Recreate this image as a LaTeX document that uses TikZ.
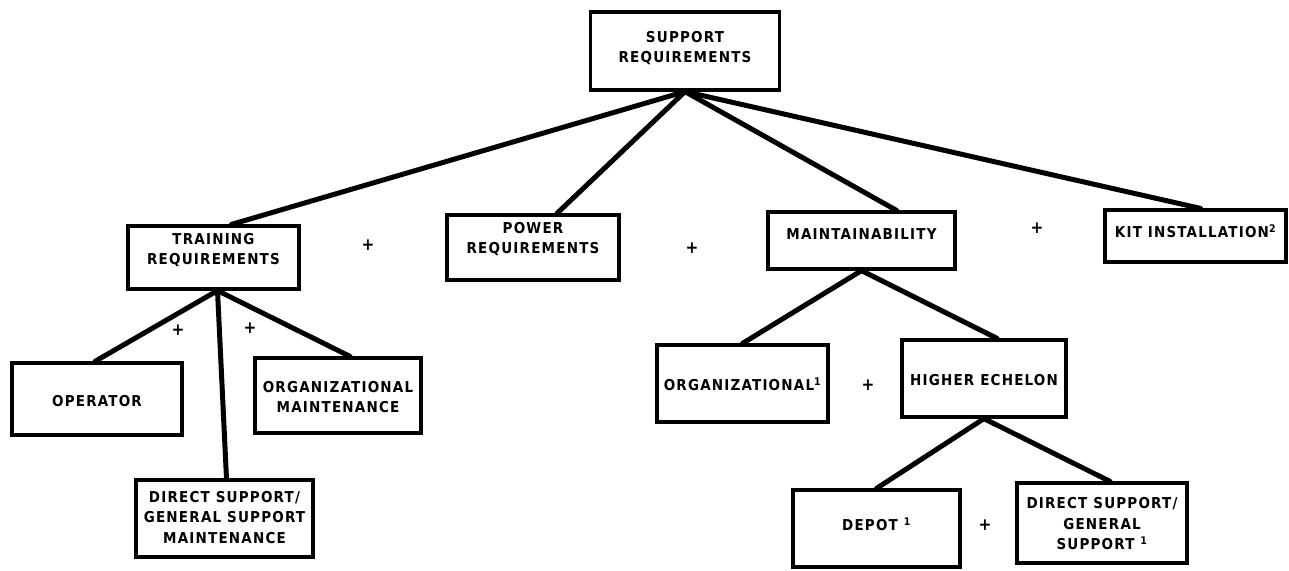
\documentclass[tikz,border=0pt]{standalone}
\usepackage{fontspec}
\setmainfont{DejaVu Sans Condensed}[LetterSpace=8]
\begin{document}
\begin{tikzpicture}[x=1pt,y=-1pt,
  box/.style={draw, line width=3.2pt, inner sep=0pt},
  lbl/.style={align=center, font=\bfseries\fontsize{15}{20.5}\selectfont, inner sep=0pt},
  conn/.style={line width=5pt, line cap=round},
  plus/.style={font=\bfseries\fontsize{17}{17}\selectfont, inner sep=0pt}]
\useasboundingbox (0,0) rectangle (1289,570);
% boxes
\node[box, minimum width=189pt, minimum height=78pt] (sr) at (685,51) {};
\node[box, minimum width=171pt, minimum height=63pt] (tr) at (213.5,257.5) {};
\node[box, minimum width=172pt, minimum height=65pt] (pr) at (533,247.5) {};
\node[box, minimum width=187pt, minimum height=57pt] (mt) at (861.5,240.5) {};
\node[box, minimum width=181pt, minimum height=52pt] (kit) at (1195.5,236) {};
\node[box, minimum width=170pt, minimum height=72pt] (op) at (97,399) {};
\node[box, minimum width=166pt, minimum height=75pt] (om) at (338,395.5) {};
\node[box, minimum width=177pt, minimum height=77pt] (ds) at (224.5,518.5) {};
\node[box, minimum width=171pt, minimum height=77pt] (org) at (742.5,383.5) {};
\node[box, minimum width=164pt, minimum height=77pt] (he) at (984,378.5) {};
\node[box, minimum width=167pt, minimum height=77pt] (dep) at (876.5,528.5) {};
\node[box, minimum width=170pt, minimum height=80pt] (dsg) at (1102,523) {};
% labels
\node[lbl] (srt) at (685,48) {SUPPORT\\REQUIREMENTS};
\node[lbl] (trt) at (213.5,250) {TRAINING\\REQUIREMENTS};
\node[lbl] (prt) at (533,239) {POWER\\REQUIREMENTS};
\node[lbl] (mtt) at (861.5,234) {MAINTAINABILITY};
\node[lbl] (kitt) at (1195.5,231) {KIT INSTALLATION\textsuperscript{2}};
\node[lbl] (opt) at (97,401) {OPERATOR};
\node[lbl] (omt) at (338,397) {ORGANIZATIONAL\\MAINTENANCE};
\node[lbl] (dst) at (224.5,517.5) {DIRECT SUPPORT/\\GENERAL SUPPORT\\MAINTENANCE};
\node[lbl] (orgt) at (742.5,384) {ORGANIZATIONAL\textsuperscript{1}};
\node[lbl] (het) at (984,380) {HIGHER ECHELON};
\node[lbl] (dept) at (876.5,524) {DEPOT \textsuperscript{1}};
\node[lbl] (dsgt) at (1102,524) {DIRECT SUPPORT/\\GENERAL\\SUPPORT \textsuperscript{1}};
% plus signs
\node[plus] (p1) at (368,245) {+};
\node[plus] (p2) at (692,248) {+};
\node[plus] (p3) at (1037,228) {+};
\node[plus] (p4) at (178,330) {+};
\node[plus] (p5) at (250,328) {+};
\node[plus] (p6) at (868,385) {+};
\node[plus] (p7) at (985,525) {+};
% connectors
\draw[conn] (sr.south) -- ([xshift=18pt]tr.north);
\draw[conn] (sr.south) -- ([xshift=24pt]pr.north);
\draw[conn] (sr.south) -- ([xshift=35pt]mt.north);
\draw[conn] (sr.south) -- ([xshift=5pt]kit.north);
\draw[conn] ([xshift=4pt]tr.south) -- ([xshift=-2pt]op.north);
\draw[conn] ([xshift=4pt]tr.south) -- ([xshift=2pt]ds.north);
\draw[conn] ([xshift=4pt]tr.south) -- ([xshift=12pt]om.north);
\draw[conn] (mt.south) -- (org.north);
\draw[conn] (mt.south) -- ([xshift=13pt]he.north);
\draw[conn] (he.south) -- (dep.north);
\draw[conn] (he.south) -- ([xshift=8pt]dsg.north);
\end{tikzpicture}
\end{document}
